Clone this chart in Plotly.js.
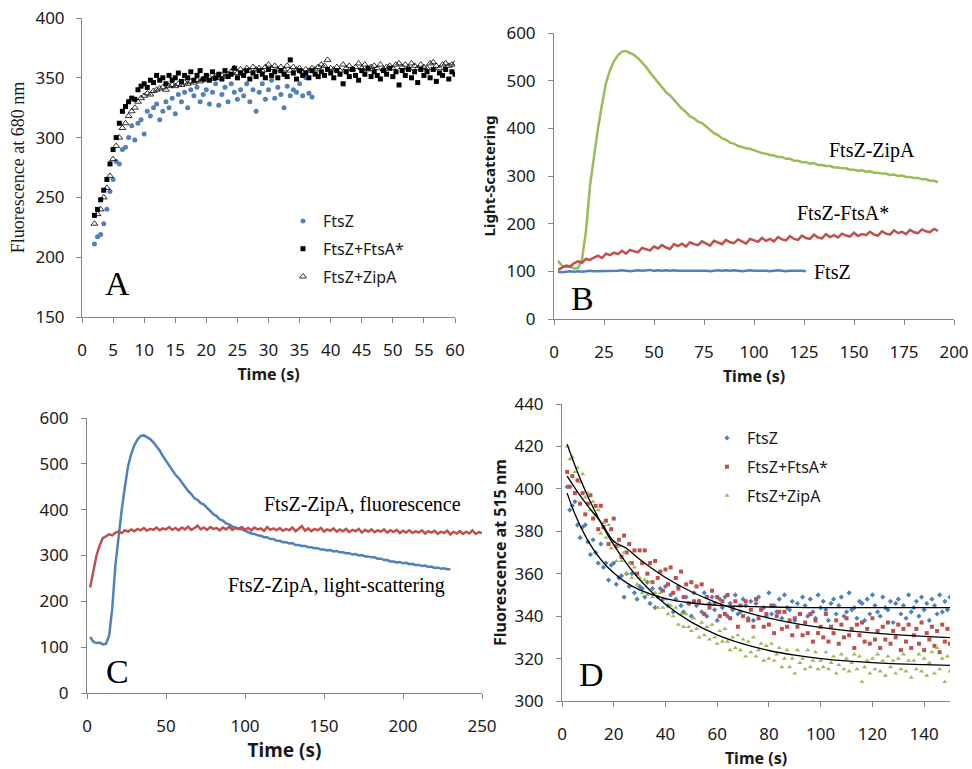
<!DOCTYPE html>
<html><head><meta charset="utf-8">
<script src="https://cdn.plot.ly/plotly-3.0.1.min.js"></script>
<style>html,body{margin:0;padding:0;background:#fff}#chart{width:972px;height:769px}</style>
</head><body><div id="chart"></div><script>
// ---------- Panel A : fluorescence at 680 nm (t from 2 s, step 0.5 s) ----------
const aFtsZ = [211,217,219,228,240,255,265,280,278,290,
292,300,310,298,312,315,303,322,318,325,
328,315,322,330,325,333,320,336,330,338,
325,340,335,342,330,336,340,328,338,345,
327,336,342,330,345,338,332,340,335,345,
330,340,322,338,345,332,340,348,333,342,
336,325,343,335,340,338,345,335,350,337,
334];
const aFtsA = [235,240,248,256,265,278,290,300,312,322,
326,330,333,332,340,343,345,342,348,346,
352,348,350,345,352,348,350,354,347,352,
350,355,348,352,356,349,352,348,355,350,
353,349,356,351,353,358,350,354,352,356,
349,354,351,356,353,350,357,352,355,350,
356,353,351,365,354,349,356,352,354,350,
356,353,351,355,352,357,354,350,356,353,
345,355,351,357,352,348,356,353,358,351,
355,352,349,356,353,358,351,355,344,356,
352,357,350,355,346,357,352,355,350,357,
347,354,352,357,349,355,353];
const aZipA = [228,236,240,250,258,268,282,293,300,308,
312,318,322,325,330,333,335,337,336,339,
340,341,342,340,343,344,343,345,344,346,
345,347,346,348,347,349,348,350,349,351,
350,352,351,353,355,358,354,357,355,358,
356,359,357,358,356,359,361,358,360,357,
359,357,360,356,359,357,358,355,357,356,
358,357,359,361,360,365,358,357,359,356,
361,358,360,357,359,362,358,361,357,359,
360,358,361,357,359,360,358,361,362,359,
361,358,362,360,358,361,359,358,362,363,
360,358,361,362,360,361,362];

// ---------- Panel B / C : light scattering & fluorescence (t from 2 s, step 2 s) ----------
const lsZipA = [122,112,109,110,106,107,125,185,280,345,
400,450,495,522,541,553,561,562,558,554,
547,538,529,517,507,495,487,476,469,459,
451,441,434,425,421,414,411,404,399,390,
386,379,376,370,368,363,361,358,357,354,
352,348,347,344,343,340,340,336,336,332,
332,329,329,326,327,323,323,321,321,318,
318,316,316,313,313,311,312,309,310,307,
307,305,305,302,303,300,301,298,298,296,
296,293,293,290,290,287,287,285,286,283,
284,281,282,279,280,277,278,275,276,273,
274,271,272,270,270];
const lsFtsA = [103,107,112,110,117,121,118,126,124,129,
133,128,137,134,139,136,143,137,145,142,
140,149,146,144,152,148,155,150,147,157,
153,158,152,161,157,155,163,158,154,164,
160,157,166,161,159,167,163,158,168,165,
162,170,164,168,163,172,167,165,174,168,
166,175,170,168,177,171,169,178,172,176,
171,179,175,173,181,174,178,176,183,177,
175,184,179,177,186,180,183,178,187,182,
180,188,184,182,189,185];
const lsFtsZ = [99,98,99,100,99,100,99,100,101,100,
100,101,100,101,100,101,102,101,100,101,
102,101,102,103,101,102,101,102,101,102,
101,101,102,101,102,101,102,101,100,101,
102,101,102,101,102,101,100,101,102,101,
101,102,101,100,101,102,101,100,101,101,
102,101,100];
const flZipA = [230,268,300,322,338,342,346,344,350,352,
349,355,352,357,353,358,355,360,354,358,
356,361,355,359,357,362,356,360,355,361,
357,363,356,360,365,357,361,356,362,358,
360,355,361,357,363,356,360,358,362,356,
360,355,361,357,359,354,362,356,359,355,
360,354,358,355,361,353,358,364,354,359,
353,358,355,360,352,357,354,359,352,357,
353,358,351,356,353,358,350,356,352,357,
351,355,352,357,350,355,351,356,349,354,
350,355,349,353,350,355,348,353,350,354,
347,352,349,354,346,352,348,353,347,352,
348,355,347,351,349];

// ---------- Panel D : fluorescence at 515 nm (t from 2 s, step 1 s) ----------
const dFtsZ = [401,390,392,394,383,377,382,383,375,369,376,370,365,374,363,365,357,364,365,355,
358,359,349,360,354,360,351,348,354,353,349,356,346,353,344,349,353,348,354,345,
350,342,348,354,345,342,349,346,340,351,345,347,342,351,340,346,349,343,338,348,
344,349,340,346,343,350,341,342,348,345,339,347,338,346,349,343,344,340,351,341,
345,342,348,339,350,344,343,347,338,346,341,349,345,340,348,342,339,350,344,347,
343,338,346,348,341,345,349,340,342,351,343,344,339,347,346,338,348,341,350,345,
342,340,349,344,343,347,337,346,348,341,345,339,350,342,344,347,340,349,343,346,
338,348,345,341,350,342,347,343,349];
const dFtsA = [408,401,406,398,404,393,398,388,393,397,
386,392,381,392,382,385,374,381,386,373,
376,368,378,370,374,365,371,360,371,365,
371,360,365,356,366,358,361,352,362,355,
363,351,358,353,361,349,355,346,356,347,
354,347,355,341,349,344,352,346,349,340,
347,341,350,339,344,347,335,345,340,347,
338,343,335,348,339,343,335,341,336,345,
332,340,342,334,342,335,338,331,339,335,
341,331,337,332,341,328,338,332,335,330,
341,328,335,332,338,327,336,330,339,331,
334,325,336,331,337,328,334,327,339,329,
333,325,335,329,337,327,333,330,336,324,
334,328,336,325,331,334,327,337,324,332,
329,335,326,333,323,336,328,334,327];
const dZipA = [420,414,415,408,410,403,407,396,398,390,
394,388,390,379,384,377,383,372,375,366,
373,366,370,360,365,358,363,355,358,351,
357,350,356,349,351,344,351,344,348,341,
345,340,344,336,341,335,341,335,333,339,
334,330,337,331,335,329,336,330,327,333,
328,334,328,324,330,325,331,324,329,321,
328,323,330,321,324,327,319,326,320,327,
319,322,325,316,320,324,316,320,313,324,
318,320,315,324,316,319,323,315,319,316,
323,315,318,321,313,317,322,315,320,314,
318,322,315,321,309,316,319,313,320,315,
322,314,319,312,321,316,319,313,320,315,
322,314,319,311,319,315,322,314,320,312,
318,323,313,325,315,320,309,321,314];
const fitT    = [2,5,10,15,20,25,30,40,50,60,70,80,90,100,110,120,130,140,150];
const fitFtsZ = [398,388.1,375.6,366.7,360.3,355.7,352.4,348.3,346.2,345.1,344.6,344.3,344.1,344,344,344,344,344,344];
const fitFtsA = [406,400.4,391.9,384.3,375.3,371.9,366.8,358.2,351.5,346.3,342.3,339.1,336.6,334.7,333.2,332.1,331.2,330.5,329.9];
const fitZipA = [421,411,396.4,384.1,373.6,364.8,357.3,345.6,337.2,331.2,326.9,323.8,321.6,320,318.9,318.1,317.5,317.1,316.8];

const legendNames = ['FtsZ','FtsZ+FtsA*','FtsZ+ZipA'];
const annB = ['FtsZ-ZipA','FtsZ-FtsA*','FtsZ'];
const annC = ['FtsZ-ZipA, fluorescence','FtsZ-ZipA, light-scattering'];

// sampling time grids
function grid(start, step, n){ const a=[]; for(let i=0;i<n;i++) a.push(+(start+i*step).toFixed(2)); return a; }
const tA = n => grid(2,0.5,n);
const tS = n => grid(2,2,n);
const tD = n => grid(2,1,n);

const BLUE='#4f81bd', RED='#c0504d', GREEN='#9bbb59';
const SANS='"Noto Sans", "Liberation Sans", sans-serif';
const SERIF='"Liberation Serif", "DejaVu Serif", serif';

const traces = [
  {x:tA(aFtsZ.length), y:aFtsZ, xaxis:'x', yaxis:'y', mode:'markers', name:legendNames[0], legendgroup:'a1',
   marker:{symbol:'circle', size:5, color:BLUE}},
  {x:tA(aFtsA.length), y:aFtsA, xaxis:'x', yaxis:'y', mode:'markers', name:legendNames[1], legendgroup:'a2',
   marker:{symbol:'square', size:5, color:'#000'}},
  {x:tA(aZipA.length), y:aZipA, xaxis:'x', yaxis:'y', mode:'markers', name:legendNames[2], legendgroup:'a3',
   marker:{symbol:'triangle-up-open', size:6, color:'#000', line:{width:0.8}}},

  {x:tS(lsZipA.length).filter(t=>t<=193), y:lsZipA.filter((v,i)=>2+2*i<=193), xaxis:'x2', yaxis:'y2', mode:'lines', showlegend:false,
   line:{color:GREEN, width:2.5}},
  {x:tS(lsFtsA.length), y:lsFtsA, xaxis:'x2', yaxis:'y2', mode:'lines', showlegend:false, line:{color:RED, width:2.5}},
  {x:tS(lsFtsZ.length), y:lsFtsZ, xaxis:'x2', yaxis:'y2', mode:'lines', showlegend:false, line:{color:BLUE, width:2.5}},

  {x:tS(lsZipA.length), y:lsZipA, xaxis:'x3', yaxis:'y3', mode:'lines', showlegend:false, line:{color:BLUE, width:2.5}},
  {x:tS(flZipA.length), y:flZipA, xaxis:'x3', yaxis:'y3', mode:'lines', showlegend:false, line:{color:RED, width:2.5}},

  {x:tD(dFtsZ.length), y:dFtsZ, xaxis:'x4', yaxis:'y4', mode:'markers', name:legendNames[0], legend:'legend2', legendgroup:'d1',
   marker:{symbol:'diamond', size:4, color:BLUE}},
  {x:tD(dFtsA.length), y:dFtsA, xaxis:'x4', yaxis:'y4', mode:'markers', name:legendNames[1], legend:'legend2', legendgroup:'d2',
   marker:{symbol:'square', size:4, color:RED}},
  {x:tD(dZipA.length), y:dZipA, xaxis:'x4', yaxis:'y4', mode:'markers', name:legendNames[2], legend:'legend2', legendgroup:'d3',
   marker:{symbol:'triangle-up', size:4.5, color:GREEN}},
  {x:fitT, y:fitFtsZ, xaxis:'x4', yaxis:'y4', mode:'lines', showlegend:false, line:{color:'#000', width:1.3, shape:'spline'}},
  {x:fitT, y:fitFtsA, xaxis:'x4', yaxis:'y4', mode:'lines', showlegend:false, line:{color:'#000', width:1.3, shape:'spline'}},
  {x:fitT, y:fitZipA, xaxis:'x4', yaxis:'y4', mode:'lines', showlegend:false, line:{color:'#000', width:1.3, shape:'spline'}}
];

const W=972, H=769;
const px = v => v/W, py = v => 1 - v/H;
function ax(o){
  return Object.assign({showline:true, linecolor:'#868686', linewidth:1, ticks:'outside', ticklen:5, tickcolor:'#868686',
    showgrid:false, zeroline:false, mirror:false, fixedrange:true,
    tickfont:{family:SANS, size:17, color:'#1a1a1a'}}, o);
}
const tfont = (s)=>({family:SANS, size:s, color:'#1a1a1a', weight:'bold'});
function ann(text, x, y, font){
  return {text:text, x:px(x), y:py(y), xref:'paper', yref:'paper', xanchor:'center', yanchor:'middle', showarrow:false, font:font};
}
const letterFont = {family:SERIF, size:34, color:'#000'};
const labelFont = {family:SERIF, size:20, color:'#000'};

const layout = {
  width:W, height:H, margin:{l:0,r:0,t:0,b:0}, paper_bgcolor:'#fff', plot_bgcolor:'#fff',
  showlegend:true,
  xaxis: ax({domain:[px(82),px(455)], range:[0,60], dtick:5, anchor:'y', ticklabelstandoff:13,
    title:{text:'Time (s)', font:tfont(16), standoff:8}}),
  yaxis: ax({domain:[py(317),py(18)], range:[150,400], dtick:50, anchor:'x', ticklabelstandoff:8,
    title:{text:'Fluorescence at 680 nm', font:{family:SERIF, size:18, color:'#1a1a1a'}, standoff:6}}),
  xaxis2: ax({domain:[px(554),px(954)], range:[0,200], dtick:25, anchor:'y2', ticklabelstandoff:13,
    title:{text:'Time (s)', font:tfont(16), standoff:8}}),
  yaxis2: ax({domain:[py(319),py(33)], range:[0,600], dtick:100, anchor:'x2', ticklabelstandoff:9,
    title:{text:'Light-Scattering', font:tfont(15), standoff:7}}),
  xaxis3: ax({domain:[px(87),px(482)], range:[0,250], dtick:50, anchor:'y3', ticklabelstandoff:13,
    title:{text:'Time (s)', font:tfont(19), standoff:6}}),
  yaxis3: ax({domain:[py(693),py(418)], range:[0,600], dtick:100, anchor:'x3', ticklabelstandoff:9}),
  xaxis4: ax({domain:[px(562),px(950)], range:[0,150], dtick:20, anchor:'y4', ticklabelstandoff:13,
    title:{text:'Time (s)', font:tfont(16), standoff:10}}),
  yaxis4: ax({domain:[py(701),py(404)], range:[300,440], dtick:20, anchor:'x4', ticklabelstandoff:9,
    title:{text:'Fluorescence at 515 nm', font:tfont(16), standoff:3}}),
  legend: {x:px(283), y:py(204), xanchor:'left', yanchor:'top', bgcolor:'rgba(0,0,0,0)', tracegroupgap:4,
    font:{family:SANS, size:16, color:'#1a1a1a'}},
  legend2: {x:px(707), y:py(421), xanchor:'left', yanchor:'top', bgcolor:'rgba(0,0,0,0)', tracegroupgap:5,
    font:{family:SANS, size:16, color:'#1a1a1a'}},
  annotations: [
    ann('A', 117, 284, letterFont),
    ann('B', 582, 298, letterFont),
    ann('C', 117, 671, letterFont),
    ann('D', 591, 674, letterFont),
    ann(annB[0], 872, 150, labelFont),
    ann(annB[1], 843, 213, labelFont),
    ann(annB[2], 832, 272, labelFont),
    ann(annC[0], 362, 505, labelFont),
    ann(annC[1], 336, 585, labelFont)
  ]
};

Plotly.newPlot('chart', traces, layout, {displayModeBar:false, staticPlot:true});
</script></body></html>
